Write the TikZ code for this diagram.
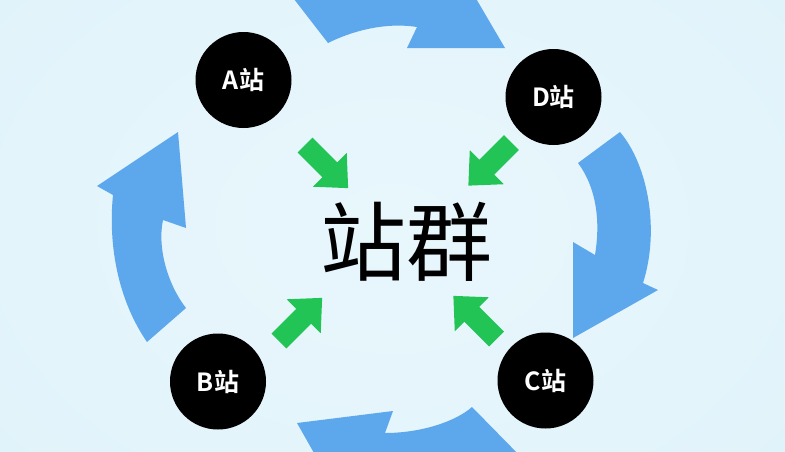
\documentclass[tikz,border=0pt]{standalone}
\usepackage{fontspec}
\setmainfont{Noto Sans CJK SC}
\newfontfamily\cjkbold[BoldFont={* Bold}]{Noto Sans CJK SC}
\definecolor{bgc}{RGB}{224,242,250}
\definecolor{bgin}{RGB}{232,247,252}
\definecolor{bluec}{RGB}{93,168,236}
\definecolor{greenc}{RGB}{34,196,86}
\tikzset{
  station/.style={circle, fill=black, minimum size=96pt, inner sep=0pt, text=white,
    font=\cjkbold\bfseries\fontsize{25}{28}\selectfont},
  bigtext/.style={inner sep=0pt, text=black, font=\fontsize{86}{90}\selectfont},
  blueflow/.style={fill=bluec},
  garrow/.pic={\fill[greenc] (0,-10.5) -- (35,-10.5) -- (35,-24) -- (61,0) -- (35,24) -- (35,10.5) -- (0,10.5) -- cycle;}
}
\begin{document}
\begin{tikzpicture}[x=1pt,y=-1pt]
\useasboundingbox (0,0) rectangle (785,451);
\clip (0,0) rectangle (785,451);
\fill[bgc] (0,0) rectangle (785,451);
\shade[inner color=bgin, outer color=bgc] (-200,-200) rectangle (985,651);
% blue cycle arrows
\fill[blueflow] (287,-10) -- (328,43) .. controls (352,31) and (385,22) .. (417,27) -- (407,48) -- (505,48) -- (471,-10) -- cycle;
\fill[blueflow] (620,132) .. controls (648,165) and (660,230) .. (643,283) -- (658,290) -- (573,338) -- (573,242) -- (595,255) .. controls (600,225) and (598,190) .. (578,163) -- cycle;
\fill[blueflow] (297,423) -- (393,411) -- (385,433) .. controls (420,433) and (455,422) .. (472,407) -- (524,460) -- (318,460) -- cycle;
\fill[blueflow] (178,132) -- (97,186) -- (113,195) .. controls (108,245) and (118,300) .. (147,342) -- (186,308) .. controls (168,285) and (157,248) .. (163,220) -- (186,228) -- cycle;
% green arrows
\pic[rotate=-45] at (305,145) {garrow};
\pic[rotate=-135] at (511.5,142.5) {garrow};
\pic[rotate=45] at (279,341) {garrow};
\pic[rotate=135] at (496.5,339) {garrow};
% stations
\node[station] (A) at (243.5,80) {A站};
\node[station] (D) at (553.5,97) {D站};
\node[station] (B) at (218,381.5) {B站};
\node[station] (C) at (545.5,380.5) {C站};
\node[bigtext] (G) at (406,242) {站群};
\end{tikzpicture}
\end{document}
